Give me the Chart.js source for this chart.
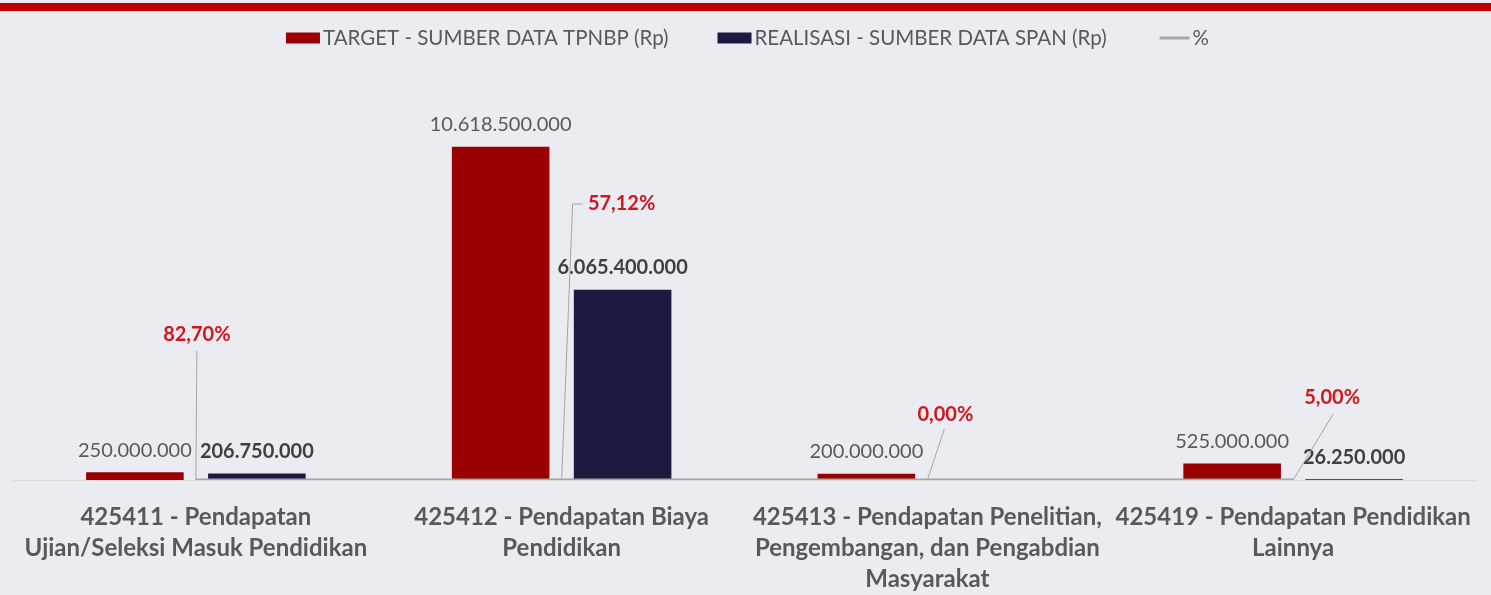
<!DOCTYPE html>
<html>
<head>
<meta charset="utf-8">
<script src="https://cdn.jsdelivr.net/npm/chart.js@4.4.1/dist/chart.umd.min.js"></script>
<style>
  html, body { margin: 0; padding: 0; background: #ebecf1; }
</style>
</head>
<body>
<canvas id="chart" width="1491" height="595"></canvas>
<script>
// Data
const categories = [
  ["425411 - Pendapatan", "Ujian/Seleksi Masuk Pendidikan"],
  ["425412 - Pendapatan Biaya", "Pendidikan"],
  ["425413 - Pendapatan Penelitian,", "Pengembangan, dan Pengabdian", "Masyarakat"],
  ["425419 - Pendapatan Pendidikan", "Lainnya"],
];
const targetValues = [250000000, 10618500000, 200000000, 525000000];
const realisasiValues = [206750000, 6065400000, null, 26250000];
const persenValues = [82.7, 57.12, 0, 5.0];

const seriesNames = [
  "TARGET - SUMBER DATA TPNBP (Rp)",
  "REALISASI - SUMBER DATA SPAN (Rp)",
  "%",
];

// Indonesian number formats
function formatRp(v) {
  return String(Math.round(v)).replace(/\B(?=(\d{3})+(?!\d))/g, ".");
}
function formatPct(v) {
  return v.toFixed(2).replace(".", ",") + "%";
}

// Background + red stripe on top
const backgroundPlugin = {
  id: "background",
  beforeDraw(chart) {
    const ctx = chart.ctx;
    ctx.save();
    ctx.fillStyle = "#ebecf1";
    ctx.fillRect(0, 0, chart.width, chart.height);
    ctx.fillStyle = "#c00000";
    ctx.fillRect(0, 3, chart.width, 8);
    ctx.restore();
  },
};

// Simple legend centred at the top
const legendPlugin = {
  id: "topLegend",
  afterDraw(chart) {
    const ctx = chart.ctx;
    const datasets = chart.data.datasets;
    const boxW = 34, gapText = 3, gapItem = 49, y = 38;
    ctx.save();
    ctx.font = "400 20.5px Lato";
    ctx.textBaseline = "middle";
    const widths = datasets.map((ds) => boxW + gapText + ctx.measureText(ds.label).width);
    const total = widths.reduce((a, b) => a + b, 0) + gapItem * (datasets.length - 1);
    let x = chart.width / 2 - total / 2 + 2;
    datasets.forEach((ds, i) => {
      if (ds.type === "line") {
        ctx.strokeStyle = ds.borderColor;
        ctx.lineWidth = 3;
        ctx.beginPath();
        ctx.moveTo(x + 4, y);
        ctx.lineTo(x + boxW, y);
        ctx.stroke();
      } else {
        ctx.fillStyle = ds.backgroundColor;
        ctx.fillRect(x, y - 5.5, boxW, 11);
      }
      ctx.fillStyle = "#595959";
      ctx.fillText(ds.label, x + boxW + gapText, y);
      x += widths[i] + gapItem;
    });
    ctx.restore();
  },
};

// Value labels above the bars
const valueLabelsPlugin = {
  id: "valueLabels",
  afterDatasetsDraw(chart) {
    const ctx = chart.ctx;
    ctx.save();
    ctx.textAlign = "center";
    ctx.textBaseline = "middle";
    [0, 1].forEach((di) => {
      const meta = chart.getDatasetMeta(di);
      const data = chart.data.datasets[di].data;
      ctx.font = di === 0 ? "400 20px Lato" : "700 20px Lato";
      ctx.fillStyle = di === 0 ? "#595959" : "#404040";
      meta.data.forEach((bar, i) => {
        if (data[i] === null || data[i] === 0) return;
        ctx.fillText(formatRp(data[i]), bar.x, bar.y - 22);
      });
    });
    ctx.restore();
  },
};

// Percent labels with leader lines (offsets relative to the line point)
const pctLabelOffsets = [[1, -145], [60, -276], [18, -65], [39, -82]];
const pctLeaders = [[[1, -129]], [[11, -276], [21, -276]], [[17, -51]], [[40, -66]]];
const pctLabelsPlugin = {
  id: "pctLabels",
  afterDatasetsDraw(chart) {
    const ctx = chart.ctx;
    const meta = chart.getDatasetMeta(2);
    const data = chart.data.datasets[2].data;
    ctx.save();
    meta.data.forEach((pt, i) => {
      ctx.strokeStyle = "#a6a6a6";
      ctx.lineWidth = 1;
      ctx.beginPath();
      ctx.moveTo(pt.x, pt.y);
      pctLeaders[i].forEach(([dx, dy]) => ctx.lineTo(pt.x + dx, pt.y + dy));
      ctx.stroke();
      ctx.font = "700 20px Lato";
      ctx.fillStyle = "#d0161e";
      ctx.textAlign = "center";
      ctx.textBaseline = "middle";
      ctx.fillText(formatPct(data[i]), pt.x + pctLabelOffsets[i][0], pt.y + pctLabelOffsets[i][1]);
    });
    ctx.restore();
  },
};

new Chart(document.getElementById("chart"), {
  type: "bar",
  data: {
    labels: categories,
    datasets: [
      {
        label: seriesNames[0],
        data: targetValues,
        backgroundColor: "#9a0000",
        categoryPercentage: 0.667,
        barPercentage: 0.8,
        order: 2,
      },
      {
        label: seriesNames[1],
        data: realisasiValues,
        backgroundColor: "#1c1a40",
        categoryPercentage: 0.667,
        barPercentage: 0.8,
        order: 2,
      },
      {
        type: "line",
        label: seriesNames[2],
        data: persenValues,
        borderColor: "#a6a6a6",
        backgroundColor: "#a6a6a6",
        borderWidth: 3,
        pointRadius: 0,
        order: 1,
      },
    ],
  },
  options: {
    responsive: false,
    animation: false,
    devicePixelRatio: 1,
    layout: {
      padding: { top: 72, left: 13, right: 15, bottom: 0 },
    },
    plugins: {
      legend: { display: false },
      tooltip: { enabled: false },
    },
    scales: {
      x: {
        grid: { display: false, drawTicks: false },
        border: { color: "#d9d9d9", width: 1 },
        ticks: {
          color: "#595959",
          font: { family: "Lato", size: 24, weight: "700", lineHeight: "31px" },
          maxRotation: 0,
          autoSkip: false,
          padding: 22,
        },
        // fixed axis band, no extra side padding for the long labels
        afterFit(scale) {
          scale.height = 115;
          scale.paddingLeft = 0;
          scale.paddingRight = 0;
        },
      },
      y: {
        display: false,
        min: 0,
        max: 13000000000,
      },
    },
  },
  plugins: [backgroundPlugin, valueLabelsPlugin, pctLabelsPlugin, legendPlugin],
});
</script>
</body>
</html>
